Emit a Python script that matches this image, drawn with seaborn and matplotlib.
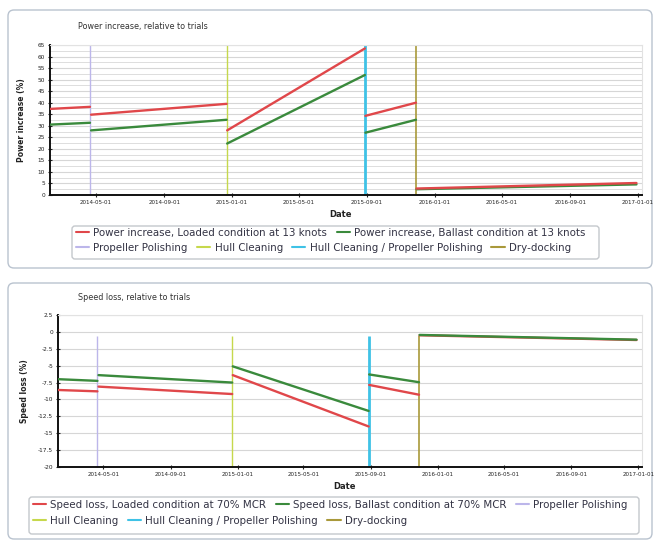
#librerias necesarias para el ejercicio
import pandas as pd
import seaborn as sns
import matplotlib.pyplot as plt
from matplotlib.lines import Line2D
from matplotlib.patches import FancyBboxPatch
from matplotlib.transforms import IdentityTransform

#fechas de inicio y fin de cada tramo entre eventos
seg_start = ["2014-02-07", "2014-04-22", "2014-12-23", "2015-08-29", "2015-11-29"]
seg_end = ["2014-04-20", "2014-12-22", "2015-08-28", "2015-11-28", "2016-12-29"]

#power increase (%)
power_loaded_start = [37.3, 34.8, 28.0, 34.3, 2.8]
power_loaded_end = [38.2, 39.5, 63.5, 40.0, 5.2]
power_ballast_start = [30.5, 28.0, 22.3, 27.0, 2.5]
power_ballast_end = [31.3, 32.6, 52.0, 32.6, 4.6]

#speed loss (%)
speed_loaded_start = [-8.6, -8.1, -6.4, -7.85, -0.5]
speed_loaded_end = [-8.8, -9.2, -14.0, -9.3, -1.2]
speed_ballast_start = [-7.0, -6.4, -5.1, -6.3, -0.45]
speed_ballast_end = [-7.25, -7.5, -11.7, -7.45, -1.15]

#eventos de mantenimiento
event_names = ["Propeller Polishing", "Hull Cleaning",
               "Hull Cleaning / Propeller Polishing", "Dry-docking"]
event_dates = ["2014-04-20", "2014-12-22", "2015-08-28", "2015-11-28"]

tick_dates = ["2014-05-01", "2014-09-01", "2015-01-01", "2015-05-01", "2015-09-01",
              "2016-01-01", "2016-05-01", "2016-09-01", "2017-01-01"]

power_names = ["Power increase, Loaded condition at 13 knots",
               "Power increase, Ballast condition at 13 knots"]
speed_names = ["Speed loss, Loaded condition at 70% MCR",
               "Speed loss, Ballast condition at 70% MCR"]

RED = "#e0474a"
GREEN = "#3a8a3c"
event_colors = ["#bcb6ea", "#c6d84c", "#3fc2e6", "#a9993a"]
event_widths = [1.0, 1.0, 2.0, 1.2]


def tabla(nombres, inicios, finales):
    filas = []
    for nombre, ini, fin in zip(nombres, inicios, finales):
        for i in range(len(seg_start)):
            filas.append({"date": seg_start[i], "value": ini[i], "serie": nombre, "seg": i})
            filas.append({"date": seg_end[i], "value": fin[i], "serie": nombre, "seg": i})
    df = pd.DataFrame(filas)
    df["date"] = pd.to_datetime(df["date"])
    return df


sns.set_theme(style="white")
plt.rcParams['font.family'] = ['DejaVu Sans']

W, H = 655, 543
fig = plt.figure(figsize=(W / 100, H / 100), dpi=100)


def caja(x0, y0, x1, y1, color="#b9c3cf", r=6):
    #caja en pixeles (origen arriba a la izquierda)
    p = FancyBboxPatch((x0, H - y1), x1 - x0, y1 - y0,
                       boxstyle="round,pad=0,rounding_size=%d" % r,
                       transform=IdentityTransform(), facecolor="none",
                       edgecolor=color, linewidth=1.0, zorder=0)
    fig.add_artist(p)


caja(8, 10, 652, 268)
caja(8, 283, 652, 539)


def config_ax(ax, ymin, ymax, ymajor, yminor, ylabel, left_px, bottom_px):
    ax.set_xlim(pd.Timestamp("2014-02-07"), pd.Timestamp("2017-01-08"))
    ax.set_ylim(ymin, ymax)
    ax.set_xticks(pd.to_datetime(tick_dates))
    ax.set_xticklabels(tick_dates, fontsize=4, color="#444444")
    yt = [ymin + i * ymajor for i in range(int(round((ymax - ymin) / ymajor)) + 1)]
    ax.set_yticks(yt)
    ax.set_yticklabels(["%g" % v for v in yt], fontsize=4.2, color="#444444")
    if yminor:
        ym = [ymin + i * yminor for i in range(int(round((ymax - ymin) / yminor)) + 1)]
        ax.set_yticks(ym, minor=True)
        ax.grid(True, axis="y", which="minor", color="#dddddd", linewidth=0.7)
    ax.grid(True, axis="y", which="major", color="#d6d6d6", linewidth=0.8)
    ax.set_axisbelow(True)
    ax.tick_params(axis="both", which="major", length=3, width=0.8, pad=2,
                   direction="inout", colors="#222222", left=True, bottom=True)
    ax.tick_params(axis="y", which="minor", length=0)
    for s in ["top", "right"]:
        ax.spines[s].set_color("#e2e2e2")
        ax.spines[s].set_linewidth(0.8)
    for s in ["left", "bottom"]:
        ax.spines[s].set_color("#111111")
        ax.spines[s].set_linewidth(1.4)
    ax.set_ylabel(ylabel, fontsize=5.5, fontweight="bold", color="#222222")
    ax.set_xlabel("Date", fontsize=6, fontweight="bold", color="#222222")
    ax.yaxis.set_label_coords(left_px, 0.5)
    ax.xaxis.set_label_coords(0.49, bottom_px)


#grafico de arriba: power increase
ax1 = fig.add_axes([50 / W, 1 - 195 / H, 592 / W, 150 / H])
ax1.set_facecolor("white")
df1 = tabla(power_names, [power_loaded_start, power_ballast_start],
            [power_loaded_end, power_ballast_end])
for i in range(len(event_names)):
    ax1.vlines(pd.Timestamp(event_dates[i]), 0, 65, color=event_colors[i],
               linewidth=event_widths[i], zorder=2)
sns.lineplot(data=df1, x="date", y="value", hue="serie", units="seg", estimator=None,
             hue_order=[power_names[1], power_names[0]],
             palette={power_names[0]: RED, power_names[1]: GREEN},
             linewidth=1.7, legend=False, ax=ax1, zorder=3)
config_ax(ax1, 0, 65, 5, 2.5, "Power increase (%)", -0.04, -0.1)

#grafico de abajo: speed loss
ax2 = fig.add_axes([58 / W, 1 - 467 / H, 584 / W, 152 / H])
ax2.set_facecolor("white")
df2 = tabla(speed_names, [speed_loaded_start, speed_ballast_start],
            [speed_loaded_end, speed_ballast_end])
for i in range(len(event_names)):
    ax2.vlines(pd.Timestamp(event_dates[i]), -20, -0.6, color=event_colors[i],
               linewidth=event_widths[i], zorder=2)
sns.lineplot(data=df2, x="date", y="value", hue="serie", units="seg", estimator=None,
             hue_order=speed_names,
             palette={speed_names[0]: RED, speed_names[1]: GREEN},
             linewidth=1.7, legend=False, ax=ax2, zorder=3)
config_ax(ax2, -20, 2.5, 2.5, None, "Speed loss (%)", -0.05, -0.1)

#titulos
fig.text(78 / W, 1 - 27 / H, "Power increase, relative to trials", fontsize=5.8,
         color="#333333", va="center")
fig.text(78 / W, 1 - 298 / H, "Speed loss, relative to trials", fontsize=5.8,
         color="#333333", va="center")


def fila(etiquetas, colores, x, y):
    handles = [Line2D([0], [0], color=c, linewidth=1.5) for c in colores]
    leg = fig.legend(handles, etiquetas, loc="upper left", bbox_to_anchor=(x / W, 1 - y / H),
                     ncol=len(etiquetas), frameon=False, fontsize=7.4, handlelength=1.3,
                     handletextpad=0.4, columnspacing=0.9, borderaxespad=0, borderpad=0)
    for t in leg.get_texts():
        t.set_color("#333344")


#leyendas
caja(72, 226, 599, 259, color="#c4c8cc", r=3)
fila(power_names, [RED, GREEN], 76, 228)
fila(event_names, event_colors, 76, 243)

caja(29, 497, 639, 534, color="#c4c8cc", r=3)
fila(speed_names + [event_names[0]], [RED, GREEN, event_colors[0]], 33, 500)
fila(event_names[1:], event_colors[1:], 33, 516)

fig.savefig("out.png", dpi=100)
